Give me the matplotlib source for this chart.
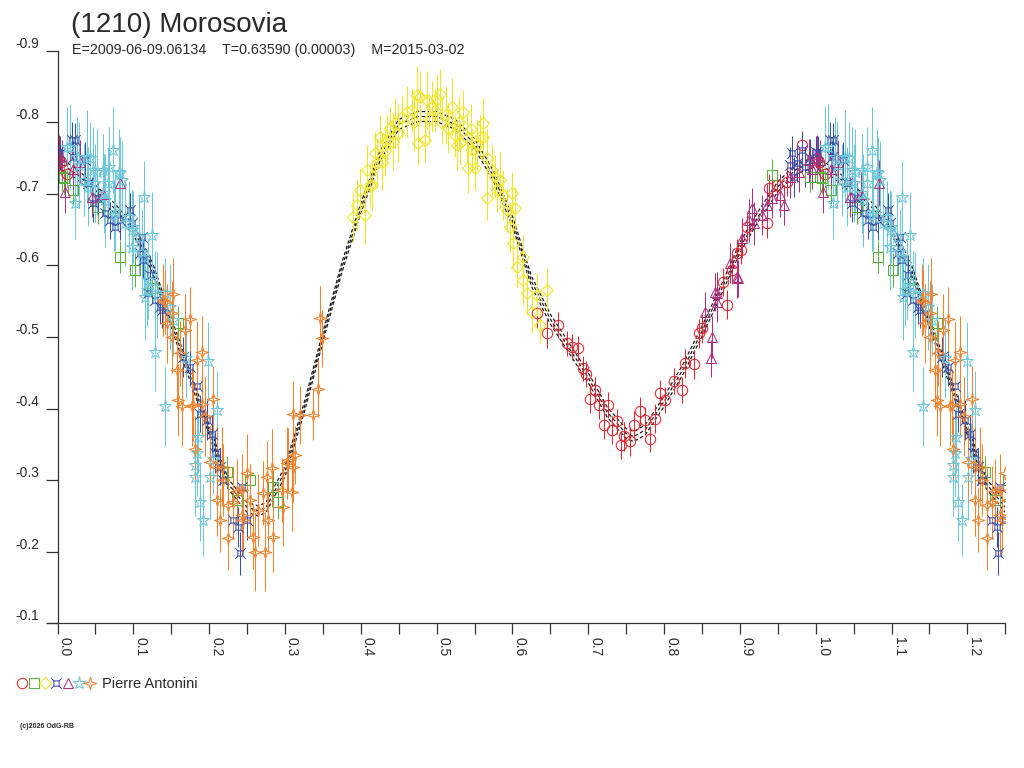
import numpy as np
import matplotlib
matplotlib.use("Agg")
import matplotlib.pyplot as plt
from matplotlib.path import Path
from matplotlib.lines import Line2D
from matplotlib.transforms import offset_copy

# ---------------- data ----------------
title = "(1210) Morosovia"
subtitle = "E=2009-06-09.06134    T=0.63590 (0.00003)    M=2015-03-02"
observer = "Pierre Antonini"
credit = "(c)2026 OdG-RB"

y_ticks = [-0.9, -0.8, -0.7, -0.6, -0.5, -0.4, -0.3, -0.2, -0.1]
x_ticks = [0.0, 0.1, 0.2, 0.3, 0.4, 0.5, 0.6, 0.7, 0.8, 0.9, 1.0, 1.1, 1.2]

# fitted curve (phase, magnitude)
fit_phase = [0.000, 0.025, 0.050, 0.075, 0.100, 0.125, 0.150, 0.175, 0.200, 0.225,
             0.250, 0.265, 0.275, 0.300, 0.325, 0.350, 0.375, 0.400, 0.425, 0.450,
             0.475, 0.500, 0.525, 0.550, 0.575, 0.600, 0.625, 0.650, 0.675, 0.700,
             0.725, 0.750, 0.760, 0.775, 0.800, 0.825, 0.850, 0.875, 0.900, 0.925,
             0.950, 0.975, 1.000]
fit_mag = [-0.745, -0.728, -0.705, -0.680, -0.650, -0.598, -0.520, -0.445, -0.370, -0.295,
           -0.262, -0.257, -0.262, -0.312, -0.400, -0.500, -0.597, -0.680, -0.752, -0.797,
           -0.808, -0.808, -0.797, -0.770, -0.725, -0.662, -0.578, -0.525, -0.484, -0.443,
           -0.395, -0.365, -0.361, -0.370, -0.410, -0.455, -0.508, -0.565, -0.625, -0.670,
           -0.710, -0.735, -0.745]

# red circles
red_ph = [0.004, 0.012, 0.632, 0.6454, 0.6607, 0.6718, 0.6784, 0.6858, 0.6937, 0.6972,
          0.7025, 0.7091, 0.7135, 0.7201, 0.7254, 0.7311, 0.7377, 0.7430, 0.7474, 0.7544,
          0.7597, 0.7685, 0.7751, 0.7817, 0.7883, 0.7940, 0.8015, 0.8125, 0.8235, 0.8278,
          0.8388, 0.8454, 0.8499, 0.8776, 0.8828, 0.8894, 0.8960, 0.9013, 0.9092, 0.9356,
          0.9378, 0.9488, 0.962, 0.9818]
red_mag = [-0.745, -0.728, -0.533, -0.505, -0.517, -0.491, -0.486, -0.484, -0.456, -0.448,
           -0.414, -0.426, -0.405, -0.377, -0.405, -0.370, -0.382, -0.349, -0.361, -0.354,
           -0.377, -0.396, -0.384, -0.357, -0.386, -0.422, -0.412, -0.438, -0.426, -0.463,
           -0.462, -0.505, -0.512, -0.577, -0.545, -0.594, -0.617, -0.622, -0.654, -0.659,
           -0.708, -0.712, -0.717, -0.768]
red_err = [0.018, 0.018, 0.020, 0.020, 0.018, 0.018, 0.018, 0.018, 0.018, 0.018,
           0.020, 0.018, 0.020, 0.020, 0.018, 0.020, 0.018, 0.020, 0.020, 0.020,
           0.020, 0.020, 0.018, 0.018, 0.020, 0.018, 0.018, 0.018, 0.018, 0.020,
           0.020, 0.020, 0.020, 0.020, 0.020, 0.020, 0.020, 0.020, 0.020, 0.020,
           0.020, 0.020, 0.020, 0.020]

# green squares
green_ph = [0.9420, 0.9927, 0.0055, 0.0080, 0.0200, 0.0539, 0.0825, 0.1022, 0.1242, 0.1594,
            0.2232, 0.2364, 0.2540, 0.2847, 0.2913]
green_mag = [-0.726, -0.724, -0.724, -0.722, -0.705, -0.682, -0.612, -0.594, -0.568, -0.519,
             -0.312, -0.272, -0.300, -0.291, -0.270]
green_err = [0.022, 0.022, 0.020, 0.022, 0.020, 0.024, 0.022, 0.024, 0.022, 0.024,
             0.022, 0.024, 0.022, 0.022, 0.024]

# yellow diamonds
yellow_ph = [0.3900, 0.3947, 0.3991, 0.4057, 0.4079, 0.4120, 0.4145, 0.4189, 0.4211, 0.4255,
             0.4280, 0.4320, 0.4343, 0.4387, 0.4431, 0.4453, 0.4490, 0.4541, 0.4607, 0.4673,
             0.4700, 0.4739, 0.4760, 0.4782, 0.4848, 0.4871, 0.4900, 0.4937, 0.4980, 0.5003,
             0.5046, 0.5069, 0.5120, 0.5156, 0.5201, 0.5244, 0.5266, 0.5300, 0.5310, 0.5354,
             0.5398, 0.5420, 0.5450, 0.5464, 0.5508, 0.5530, 0.5574, 0.5618, 0.5618, 0.5660,
             0.5662, 0.5728, 0.5772, 0.5794, 0.5830, 0.5881, 0.5926, 0.5970, 0.5992, 0.6013,
             0.6036, 0.6058, 0.6145, 0.6145, 0.6189, 0.6256, 0.6321, 0.6365, 0.6454]
yellow_mag = [-0.668, -0.684, -0.705, -0.670, -0.733, -0.712, -0.712, -0.757, -0.743, -0.780,
              -0.745, -0.760, -0.775, -0.792, -0.773, -0.799, -0.785, -0.808, -0.815, -0.817,
              -0.800, -0.838, -0.771, -0.836, -0.775, -0.831, -0.805, -0.822, -0.817, -0.833,
              -0.840, -0.799, -0.810, -0.792, -0.822, -0.782, -0.768, -0.800, -0.771, -0.815,
              -0.778, -0.736, -0.790, -0.761, -0.736, -0.768, -0.780, -0.799, -0.780, -0.750,
              -0.694, -0.733, -0.724, -0.705, -0.720, -0.698, -0.677, -0.654, -0.701, -0.631,
              -0.680, -0.598, -0.612, -0.580, -0.561, -0.535, -0.559, -0.517, -0.566]
yellow_err = [0.035, 0.035, 0.030, 0.040, 0.035, 0.030, 0.035, 0.030, 0.035, 0.030,
              0.040, 0.035, 0.035, 0.030, 0.040, 0.035, 0.040, 0.030, 0.035, 0.030,
              0.040, 0.040, 0.030, 0.035, 0.030, 0.040, 0.035, 0.035, 0.030, 0.035,
              0.035, 0.030, 0.040, 0.035, 0.040, 0.030, 0.035, 0.035, 0.030, 0.030,
              0.035, 0.035, 0.035, 0.030, 0.030, 0.035, 0.030, 0.035, 0.030, 0.040,
              0.030, 0.035, 0.030, 0.030, 0.040, 0.035, 0.030, 0.035, 0.030, 0.035,
              0.030, 0.030, 0.030, 0.035, 0.030, 0.030, 0.030, 0.025, 0.030]

# dark blue symbols
blue_ph = [0.0000, 0.0033, 0.0191, 0.0209, 0.0231, 0.0363, 0.0407, 0.0473, 0.0539, 0.0627,
           0.0693, 0.0759, 0.0825, 0.0956, 0.0979, 0.1088, 0.1111, 0.1132, 0.1198, 0.1220,
           0.1286, 0.1352, 0.1374, 0.1660, 0.1748, 0.1836, 0.1880, 0.1968, 0.2034, 0.2078,
           0.2144, 0.2187, 0.2319, 0.2385, 0.2408, 0.2430, 0.2496, 0.9660, 0.9686, 0.9708,
           0.9752, 0.9818, 0.9862, 0.9927]
blue_mag = [-0.759, -0.757, -0.775, -0.752, -0.775, -0.747, -0.715, -0.687, -0.694, -0.673,
            -0.663, -0.654, -0.663, -0.677, -0.659, -0.617, -0.640, -0.608, -0.561, -0.587,
            -0.552, -0.542, -0.538, -0.472, -0.458, -0.431, -0.393, -0.384, -0.365, -0.338,
            -0.319, -0.300, -0.244, -0.235, -0.198, -0.291, -0.244, -0.740, -0.757, -0.724,
            -0.743, -0.761, -0.738, -0.750]
blue_err = [0.022, 0.024, 0.026, 0.022, 0.024, 0.026, 0.024, 0.026, 0.022, 0.024,
            0.026, 0.024, 0.028, 0.024, 0.026, 0.024, 0.028, 0.026, 0.024, 0.028,
            0.026, 0.024, 0.026, 0.028, 0.026, 0.028, 0.026, 0.028, 0.026, 0.028,
            0.026, 0.028, 0.026, 0.028, 0.030, 0.026, 0.028, 0.026, 0.024, 0.028,
            0.026, 0.024, 0.028, 0.026]

# purple triangles
purple_ph = [0.8542, 0.8617, 0.8630, 0.8674, 0.8696, 0.8700, 0.8872, 0.8960, 0.8980, 0.9026,
             0.9114, 0.9158, 0.9180, 0.9290, 0.9356, 0.9422, 0.9532, 0.9576, 0.9664, 0.9773,
             0.9905, 0.9950, 0.0016, 0.0055, 0.0099, 0.0200, 0.0300, 0.0455, 0.0600, 0.0830]
purple_mag = [-0.535, -0.470, -0.500, -0.563, -0.549, -0.561, -0.603, -0.584, -0.582, -0.638,
              -0.663, -0.680, -0.659, -0.670, -0.684, -0.694, -0.698, -0.684, -0.724, -0.731,
              -0.747, -0.735, -0.752, -0.747, -0.703, -0.735, -0.745, -0.696, -0.700, -0.715]
purple_err = [0.028, 0.026, 0.030, 0.026, 0.028, 0.030, 0.028, 0.030, 0.026, 0.028,
              0.030, 0.028, 0.030, 0.028, 0.030, 0.028, 0.030, 0.028, 0.030, 0.028,
              0.030, 0.028, 0.030, 0.028, 0.030, 0.028, 0.030, 0.028, 0.030, 0.032]

# cyan stars
cyan_ph = [0.0125, 0.0165, 0.0231, 0.0253, 0.0280, 0.0345, 0.0389, 0.0407, 0.0433, 0.0473,
           0.0500, 0.0520, 0.0605, 0.0610, 0.0627, 0.0670, 0.0675, 0.0737, 0.0740, 0.0759,
           0.0807, 0.0825, 0.0850, 0.0891, 0.0940, 0.0979, 0.0979, 0.0990, 0.1070, 0.1111,
           0.1137, 0.1137, 0.1154, 0.1176, 0.1198, 0.1247, 0.1286, 0.1286, 0.1308, 0.1418,
           0.1418, 0.1484, 0.1528, 0.1700, 0.1814, 0.1814, 0.1836, 0.1850, 0.1880, 0.1924,
           0.1990, 0.2012, 0.2050, 0.2100]
cyan_mag = [-0.766, -0.766, -0.687, -0.752, -0.740, -0.719, -0.752, -0.710, -0.750, -0.733,
            -0.715, -0.731, -0.733, -0.701, -0.691, -0.715, -0.738, -0.761, -0.670, -0.675,
            -0.731, -0.729, -0.719, -0.659, -0.668, -0.650, -0.626, -0.654, -0.640, -0.619,
            -0.696, -0.612, -0.556, -0.566, -0.580, -0.643, -0.570, -0.479, -0.559, -0.561,
            -0.403, -0.542, -0.524, -0.470, -0.321, -0.305, -0.338, -0.360, -0.270, -0.244,
            -0.466, -0.305, -0.330, -0.398]
cyan_err = [0.055, 0.060, 0.050, 0.055, 0.060, 0.050, 0.065, 0.055, 0.050, 0.060,
            0.055, 0.060, 0.050, 0.055, 0.065, 0.050, 0.055, 0.060, 0.050, 0.055,
            0.060, 0.050, 0.055, 0.060, 0.050, 0.055, 0.060, 0.050, 0.055, 0.060,
            0.050, 0.055, 0.060, 0.050, 0.055, 0.060, 0.050, 0.055, 0.060, 0.050,
            0.055, 0.060, 0.050, 0.055, 0.050, 0.055, 0.060, 0.050, 0.055, 0.050,
            0.055, 0.060, 0.050, 0.055]

# orange four-point stars
orange_ph = [0.1396, 0.1418, 0.1440, 0.1506, 0.1511, 0.1520, 0.1572, 0.1594, 0.1616, 0.1638,
             0.1682, 0.1748, 0.1774, 0.1792, 0.1814, 0.1836, 0.1902, 0.1902, 0.1950, 0.2012,
             0.2055, 0.2100, 0.2100, 0.2144, 0.2166, 0.2187, 0.2253, 0.2253, 0.2320, 0.2370,
             0.2430, 0.2434, 0.2452, 0.2496, 0.2540, 0.2583, 0.2606, 0.2650, 0.2715, 0.2737,
             0.2760, 0.2781, 0.2826, 0.2847, 0.2958, 0.2979, 0.3024, 0.3045, 0.3090, 0.3111,
             0.3111, 0.3133, 0.3200, 0.3375, 0.3440, 0.3463, 0.3486]
orange_mag = [-0.552, -0.549, -0.519, -0.500, -0.533, -0.560, -0.454, -0.412, -0.477, -0.403,
              -0.510, -0.525, -0.403, -0.405, -0.344, -0.468, -0.479, -0.407, -0.389, -0.326,
              -0.414, -0.319, -0.272, -0.244, -0.319, -0.300, -0.219, -0.265, -0.270, -0.285,
              -0.251, -0.286, -0.244, -0.310, -0.272, -0.221, -0.200, -0.258, -0.282, -0.200,
              -0.305, -0.244, -0.317, -0.221, -0.286, -0.263, -0.324, -0.328, -0.284, -0.319,
              -0.393, -0.335, -0.391, -0.391, -0.428, -0.526, -0.498]
orange_err = [0.050, 0.045, 0.055, 0.050, 0.045, 0.050, 0.055, 0.050, 0.045, 0.055,
              0.050, 0.045, 0.055, 0.050, 0.045, 0.055, 0.050, 0.045, 0.055, 0.050,
              0.045, 0.055, 0.050, 0.045, 0.055, 0.050, 0.045, 0.055, 0.050, 0.045,
              0.055, 0.050, 0.045, 0.055, 0.050, 0.045, 0.055, 0.050, 0.045, 0.055,
              0.050, 0.045, 0.055, 0.050, 0.045, 0.055, 0.050, 0.045, 0.055, 0.050,
              0.045, 0.040, 0.040, 0.035, 0.040, 0.045, 0.040]

# ---------------- styling ----------------
FONT = ["Liberation Sans", "DejaVu Sans"]
plt.rcParams["font.family"] = FONT
TXT = "#2a2a2a"

c_red, c_green, c_yellow = "#e8262e", "#5ab43c", "#f2e51e"
c_blue, c_purple, c_cyan, c_orange = "#3a4fa8", "#b0307e", "#6ec8dc", "#f5822d"

# custom markers
blue_marker = Path(
    [(-0.45, -0.45), (0.45, -0.45), (0.45, 0.45), (-0.45, 0.45), (-0.45, -0.45),
     (-0.45, -0.45), (-0.9, -0.9), (0.45, -0.45), (0.9, -0.9),
     (0.45, 0.45), (0.9, 0.9), (-0.45, 0.45), (-0.9, 0.9)],
    [Path.MOVETO, Path.LINETO, Path.LINETO, Path.LINETO, Path.CLOSEPOLY,
     Path.MOVETO, Path.LINETO, Path.MOVETO, Path.LINETO,
     Path.MOVETO, Path.LINETO, Path.MOVETO, Path.LINETO])
orange_marker = Path(
    [(0, 1), (0.22, 0.22), (1, 0), (0.22, -0.22), (0, -1), (-0.22, -0.22), (-1, 0),
     (-0.22, 0.22), (0, 1)],
    [Path.MOVETO] + [Path.LINETO] * 7 + [Path.CLOSEPOLY])

series = [
    (red_ph, red_mag, red_err, c_red, "o", 7.5),
    (green_ph, green_mag, green_err, c_green, "s", 6.5),
    (yellow_ph, yellow_mag, yellow_err, c_yellow, "D", 6.5),
    (blue_ph, blue_mag, blue_err, c_blue, blue_marker, 7.5),
    (purple_ph, purple_mag, purple_err, c_purple, "^", 7.5),
    (cyan_ph, cyan_mag, cyan_err, c_cyan, "*", 9.5),
    (orange_ph, orange_mag, orange_err, c_orange, orange_marker, 9),
]

XMAX = 1.25
LW = 0.75


def wrapped(ph, *cols):
    ph = np.asarray(ph, dtype=float)
    sel = ph + 1.0 <= XMAX + 0.01
    out = [np.concatenate([ph, ph[sel] + 1.0])]
    for c in cols:
        c = np.asarray(c, dtype=float)
        out.append(np.concatenate([c, c[sel]]))
    return out


fig = plt.figure(figsize=(10.24, 7.68), dpi=100)
fig.patch.set_facecolor("white")
ax = fig.add_axes([57.5 / 1024, 1 - 623.3 / 768, (1005.3 - 57.5) / 1024, (623.3 - 50.7) / 768])

# fit curves (three slightly offset dashed lines)
fx, fy = wrapped(fit_phase, fit_mag)
order = np.argsort(fx)
fx, fy = fx[order], fy[order]
for dy in (-5, 0, 5):
    tr = offset_copy(ax.transData, fig=fig, x=0, y=dy, units="dots")
    ax.plot(fx, fy, color="#111111", lw=0.85, ls=(0, (3, 2)), transform=tr, zorder=1)

for ph, mag, err, col, mk, ms in series:
    x, y, e = wrapped(ph, mag, err)
    ax.errorbar(x, y, yerr=e, linestyle="none", marker=mk, ms=ms, mfc="none",
                mec=col, mew=LW, ecolor=col, elinewidth=LW, capsize=0, zorder=2)

ax.set_xlim(0, XMAX)
ax.set_ylim(-0.1, -0.9)

for s in ("top", "right"):
    ax.spines[s].set_visible(False)
for s in ("left", "bottom"):
    ax.spines[s].set_color("#333333")
    ax.spines[s].set_linewidth(0.9)
ax.spines["bottom"].set_bounds(-0.0125, XMAX)

ax.set_xticks(x_ticks)
ax.set_xticklabels([f"{t:.1f}" for t in x_ticks], rotation=-90, ha="left", va="top",
                   rotation_mode="default")
ax.set_xticks(np.arange(0.05, XMAX + 0.001, 0.1), minor=True)
ax.tick_params(axis="x", which="both", direction="out", length=8, width=0.9,
               color="#333333", labelsize=10, labelcolor=TXT, pad=2)
ax.set_yticks(y_ticks)
ax.set_yticklabels([f"{t:.1f}" for t in y_ticks], va="bottom")
ax.tick_params(axis="y", direction="out", length=9, width=0.9, color="#333333",
               labelsize=10, labelcolor=TXT, pad=4)

# titles
fig.text(71 / 1024, 1 - 32 / 768, title, fontsize=20, color=TXT, va="baseline", ha="left")
fig.text(72 / 1024, 1 - 54.3 / 768, subtitle, fontsize=10.3, color=TXT, va="baseline", ha="left")

# legend row
leg_markers = [("o", c_red, 7.5), ("s", c_green, 6.5), ("D", c_yellow, 6.5),
               (blue_marker, c_blue, 7.5), ("^", c_purple, 7.5), ("*", c_cyan, 9.5),
               (orange_marker, c_orange, 9)]
for i, (mk, col, ms) in enumerate(leg_markers):
    xx = (22.3 + i * 11.3) / 1024
    fig.add_artist(Line2D([xx], [1 - 682.7 / 768], transform=fig.transFigure, marker=mk,
                          ms=ms, mfc="none", mec=col, mew=LW, linestyle="none"))
fig.text(102.3 / 1024, 1 - 687.7 / 768, observer, fontsize=10.5, color=TXT, va="baseline")
fig.text(20 / 1024, 1 - 727.7 / 768, credit, fontsize=5, color=TXT, va="baseline",
         fontweight="bold")

fig.savefig("out.png", dpi=100, facecolor="white")
